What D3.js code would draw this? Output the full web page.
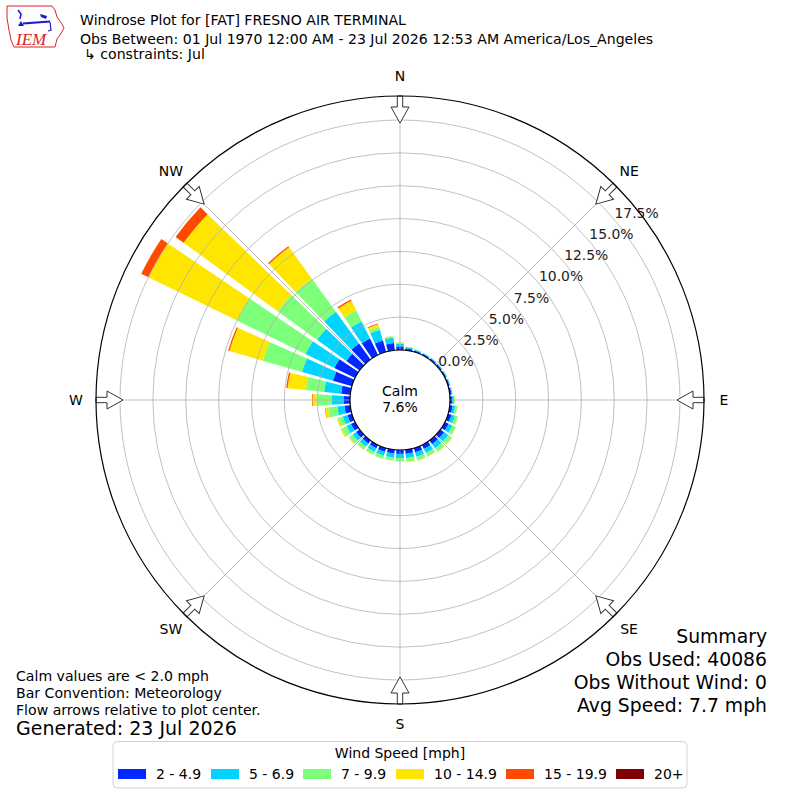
<!DOCTYPE html>
<html><head><meta charset="utf-8">
<script src="https://cdn.jsdelivr.net/npm/d3@7"></script>
<style>
html,body{margin:0;padding:0;background:#fff;}
svg{display:block;font-family:"DejaVu Sans",sans-serif;}
</style></head>
<body>
<svg id="chart" width="800" height="800"></svg>
<script>
// ---------- DATA ----------
const directions = [0,10,20,30,40,50,60,70,80,90,100,110,120,130,140,150,160,170,
                    180,190,200,210,220,230,240,250,260,270,280,290,300,310,320,330,340,350];
const speedBins = ["2 - 4.9","5 - 6.9","7 - 9.9","10 - 14.9","15 - 19.9","20+"];
const binColors = ["#0028ff","#00d4ff","#7cff79","#ffe600","#ff4a00","#7f0000"];
// percent frequency per direction for each speed bin
const s2to5   = [0.28,0.15,0.12,0.12,0.12,0.12,0.12,0.12,0.13,0.17,0.22,0.28,0.32,0.36,0.36,0.34,0.34,0.32,
                 0.30,0.29,0.30,0.29,0.30,0.33,0.35,0.35,0.45,0.50,0.70,1.50,1.75,1.25,1.50,1.40,0.90,0.55];
const s5to7   = [0.20,0.10,0.07,0.06,0.06,0.06,0.06,0.06,0.07,0.13,0.20,0.27,0.33,0.38,0.38,0.35,0.35,0.33,
                 0.33,0.32,0.32,0.30,0.30,0.32,0.38,0.37,0.55,0.90,1.30,2.45,2.45,2.75,3.00,1.45,0.85,0.40];
const s7to10  = [0.10,0.04,0.03,0.02,0.02,0.02,0.02,0.02,0.02,0.06,0.15,0.21,0.26,0.31,0.31,0.27,0.27,0.26,
                 0.22,0.21,0.23,0.23,0.26,0.32,0.40,0.38,0.70,1.15,1.40,3.10,5.80,3.70,3.10,0.95,0.25,0.12];
const s10to15 = [0.02,0.01,0,0,0,0,0,0,0,0.01,0.03,0.04,0.04,0.05,0.05,0.04,0.04,0.04,
                 0.03,0.03,0.03,0.03,0.04,0.08,0.12,0.10,0.22,0.30,1.40,2.65,7.50,8.85,2.95,0.80,0.20,0.05];
const s15to20 = [0,0,0,0,0,0,0,0,0,0,0,0,0,0,0,0,0,0,
                 0,0,0,0,0,0,0,0,0.03,0.05,0.10,0.10,0.60,0.75,0.10,0.10,0.05,0];
const s20plus = [0,0,0,0,0,0,0,0,0,0,0,0,0,0,0,0,0,0,
                 0,0,0,0,0,0,0,0,0,0,0,0,0,0,0,0,0,0];
const series = [s2to5,s5to7,s7to10,s10to15,s15to20,s20plus];
const radialTicks = [0,2.5,5,7.5,10,12.5,15,17.5];
const compass = [["N",0],["NE",45],["E",90],["SE",135],["S",180],["SW",225],["W",270],["NW",315]];
const calmPct = "7.6%";
const titleLines = ["Windrose Plot for [FAT] FRESNO AIR TERMINAL",
  "Obs Between: 01 Jul 1970 12:00 AM - 23 Jul 2026 12:53 AM America/Los_Angeles",
  "\u21b3 constraints: Jul"];
const notes = ["Calm values are < 2.0 mph","Bar Convention: Meteorology","Flow arrows relative to plot center."];
const generated = "Generated: 23 Jul 2026";
const summary = ["Summary","Obs Used: 40086","Obs Without Wind: 0","Avg Speed: 7.7 mph"];

// ---------- CHART ----------
const svg = d3.select("#chart");
const cx = 400, cy = 400;
const rCalm = 50, rOuter = 304;
const r = d3.scaleLinear().domain([0,17.5]).range([rCalm,280]);
const deg = Math.PI/180;
const g = svg.append("g").attr("transform",`translate(${cx},${cy})`);

// stacked bars
const arc = d3.arc();
const halfW = 4*deg;
const stackRows = directions.map((d,i)=>{
  let acc = 0;
  return series.map((s,k)=>{ const v0=acc; acc+=s[i]; return {dir:d,k,v0,v1:acc}; });
});
g.append("g").selectAll("g").data(stackRows).join("g")
 .selectAll("path").data(d=>d.filter(e=>e.v1>e.v0)).join("path")
 .attr("d",e=>arc({innerRadius:r(e.v0),outerRadius:r(e.v1),startAngle:e.dir*deg-halfW,endAngle:e.dir*deg+halfW}))
 .attr("fill",e=>binColors[e.k]);

// grid circles
g.append("g").selectAll("circle").data(radialTicks.slice(1)).join("circle")
 .attr("r",d=>r(d)).attr("fill","none").attr("stroke","#b0b0b0").attr("stroke-width",0.8);
// radial grid lines
g.append("g").selectAll("line").data(compass).join("line")
 .attr("x1",d=>rCalm*Math.sin(d[1]*deg)).attr("y1",d=>-rCalm*Math.cos(d[1]*deg))
 .attr("x2",d=>rOuter*Math.sin(d[1]*deg)).attr("y2",d=>-rOuter*Math.cos(d[1]*deg))
 .attr("stroke","#b0b0b0").attr("stroke-width",0.8);

// calm circle
g.append("circle").attr("r",rCalm).attr("fill","#fff").attr("stroke","#000").attr("stroke-width",1.2);
g.append("text").attr("text-anchor","middle").attr("y",-9).attr("dy","0.35em").attr("font-size",14).text("Calm");
g.append("text").attr("text-anchor","middle").attr("y",7.5).attr("dy","0.35em").attr("font-size",14).text(calmPct);

// radial labels
const la = 40*deg;
g.append("g").selectAll("text").data(radialTicks).join("text")
 .attr("x",d=>r(d)*Math.cos(la)).attr("y",d=>-r(d)*Math.sin(la)-2)
 .attr("font-size",13.9).attr("fill","#222").text(d=>d.toFixed(1)+"%");

// arrows
const arrowPts = [[-2.7,-rOuter],[2.7,-rOuter],[2.7,-293],[9,-293],[0,-277],[-9,-293],[-2.7,-293]];
g.append("g").selectAll("path").data(compass).join("path")
 .attr("d","M"+arrowPts.map(p=>p.join(",")).join("L")+"Z")
 .attr("transform",d=>`rotate(${d[1]})`)
 .attr("fill","#fff").attr("stroke","#333").attr("stroke-width",1);

// outer circle
g.append("circle").attr("r",rOuter).attr("fill","none").attr("stroke","#000").attr("stroke-width",1.2);

// compass labels
g.append("g").selectAll("text").data(compass).join("text")
 .attr("x",d=>324*Math.sin(d[1]*deg)).attr("y",d=>-324*Math.cos(d[1]*deg))
 .attr("text-anchor","middle").attr("dy","0.35em").attr("font-size",14).text(d=>d[0]);

// titles
const tb = [25,44,58.5], tx = [80,80,84];
svg.append("g").selectAll("text").data(titleLines).join("text")
 .attr("x",(d,i)=>tx[i]).attr("y",(d,i)=>tb[i]).attr("font-size",14.1).text(d=>d);

// notes
svg.append("g").selectAll("text").data(notes).join("text")
 .attr("x",16).attr("y",(d,i)=>681+i*17).attr("font-size",14.1).text(d=>d);
svg.append("text").attr("x",16).attr("y",735).attr("font-size",19).text(generated);
svg.append("g").selectAll("text").data(summary).join("text")
 .attr("x",767).attr("y",(d,i)=>642.5+i*23.3).attr("text-anchor","end").attr("font-size",18.8).text(d=>d);

// legend
const lg = svg.append("g");
lg.append("rect").attr("x",113).attr("y",741.5).attr("width",574).attr("height",46.5).attr("rx",4)
  .attr("fill","#fff").attr("stroke","#d0d0d0").attr("stroke-width",1);
lg.append("text").attr("x",400).attr("y",758).attr("text-anchor","middle").attr("font-size",14).text("Wind Speed [mph]");
const legendX = [118,211,303,396,506,616];
speedBins.forEach((b,i)=>{
  lg.append("rect").attr("x",legendX[i]).attr("y",769).attr("width",28).attr("height",10).attr("fill",binColors[i]);
  lg.append("text").attr("x",legendX[i]+38).attr("y",779).attr("font-size",14).text(b);
});

// logo
const logo = svg.append("g");
logo.append("path").attr("d","M7,6 L52,6 L55,10 L57,17 L62,24 L64,28 L60,35 L57,39 L55,47 L14,47 L11,40 L9,30 L7,18 Z")
  .attr("fill","none").attr("stroke","#d22").attr("stroke-width",1);
logo.append("line").attr("x1",23).attr("y1",23.5).attr("x2",50).attr("y2",21.5).attr("stroke","#1a1acc").attr("stroke-width",2);
logo.append("path").attr("d","M18,10 L21,14 L20,19").attr("fill","none").attr("stroke","#1a1acc").attr("stroke-width",1.5);
logo.append("path").attr("d","M40,14 L47,16 L46,19 L41,17 Z").attr("fill","#1a1acc");
logo.append("path").attr("d","M18,26 L21,21 L24,26 Z").attr("fill","#1a1acc");
logo.append("path").attr("d","M50,22 L51,30 L48,31").attr("fill","none").attr("stroke","#1a1acc").attr("stroke-width",1.2);
logo.append("text").attr("x",16).attr("y",45).attr("font-family","Liberation Serif").attr("font-style","italic")
  .attr("font-size",17).attr("fill","#d22").text("IEM");
</script>
</body></html>
